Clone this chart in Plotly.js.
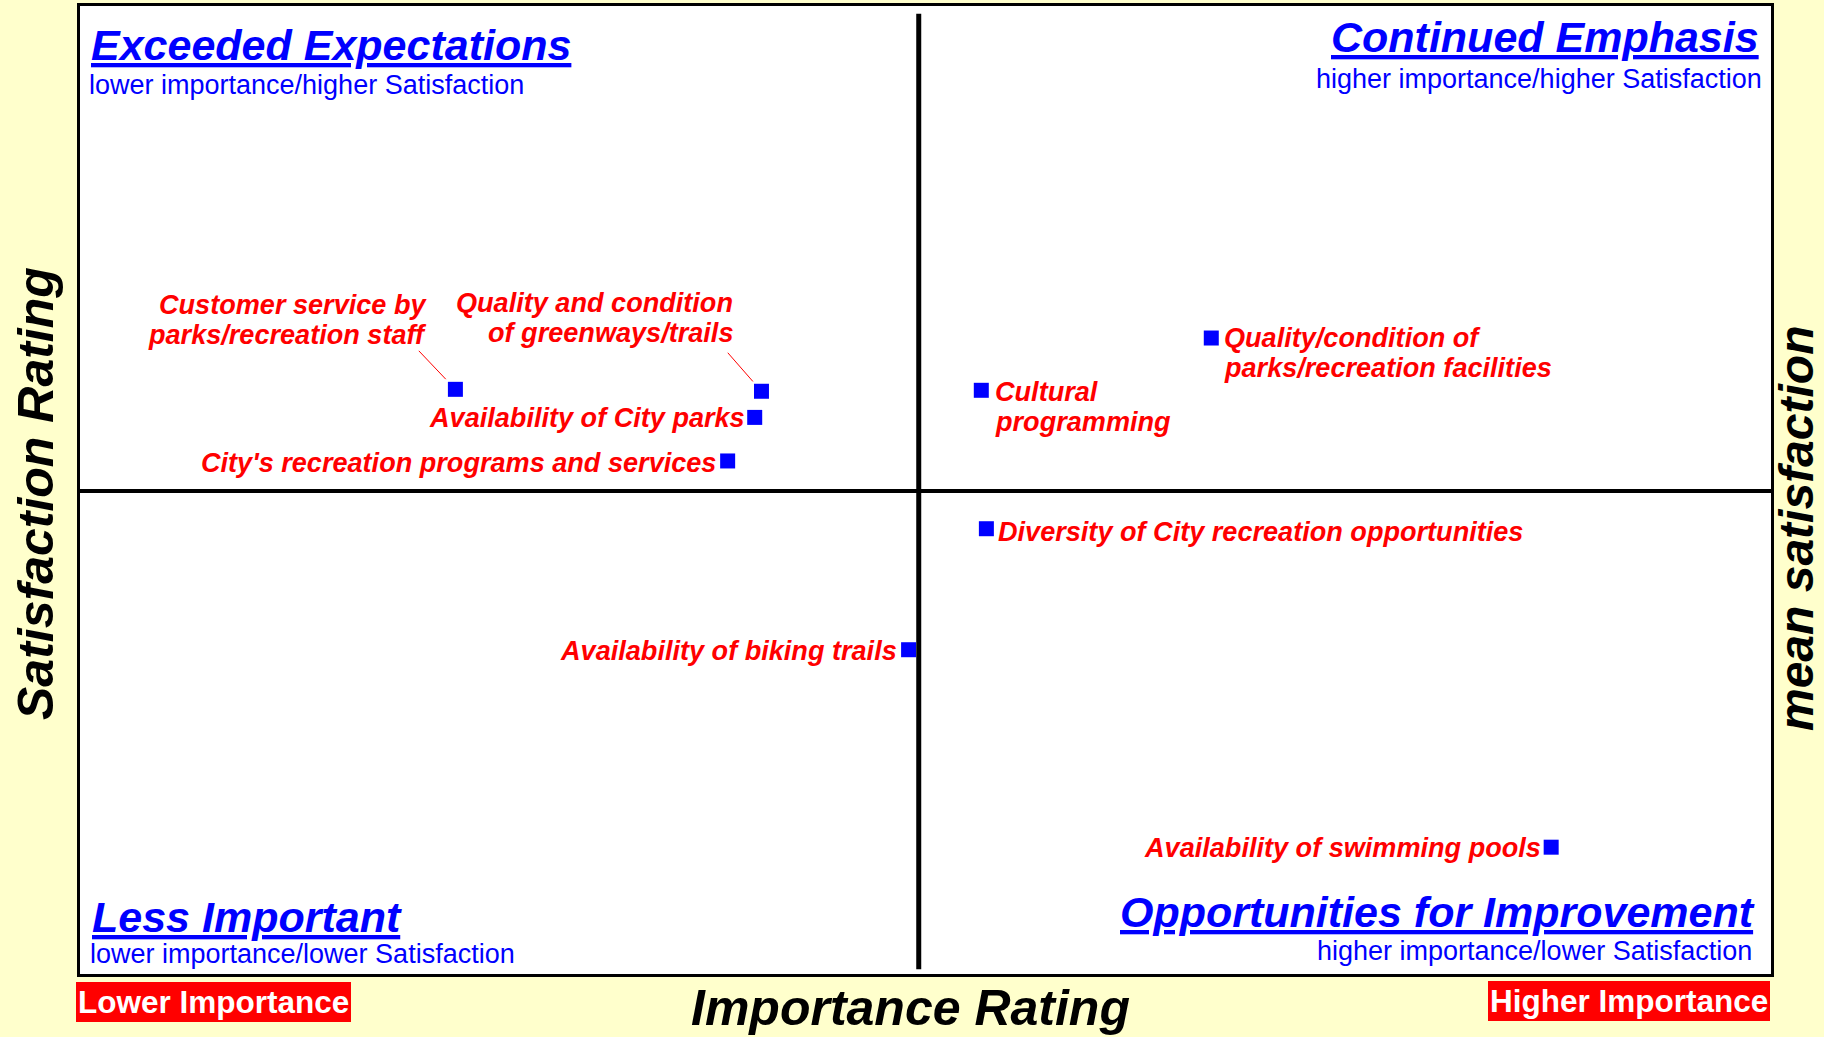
<!DOCTYPE html>
<html>
<head>
<meta charset="utf-8">
<title>Importance-Satisfaction Matrix</title>
<script src="https://cdn.plot.ly/plotly-3.0.1.min.js"></script>
<style>
  html, body { margin: 0; padding: 0; background: #ffffcc; }
  #chart { width: 1824px; height: 1037px; }
</style>
</head>
<body>
<div id="chart"></div>
<script>
// Parks & recreation services, placed by importance (x) and satisfaction (y).
// No tick labels in the source, so both ratings are on a 0-100 position scale.
const items = [
  'Customer service by<br>parks/recreation staff',
  'Quality and condition<br>of greenways/trails',
  'Availability of City parks',
  "City's recreation programs and services",
  'Cultural<br>programming',
  'Quality/condition of<br>parks/recreation facilities',
  'Diversity of City recreation opportunities',
  'Availability of biking trails',
  'Availability of swimming pools'
];
const importance   = [22.2, 40.3, 39.9, 38.3, 53.3, 66.9, 53.6, 49.0, 87.0];
const satisfaction = [60.4, 60.2, 57.5, 53.0, 60.3, 65.7, 46.0, 33.5, 13.1];
const meanImportance = 49.6;
const meanSatisfaction = 49.9;

const quadrantTitles = ['Exceeded Expectations', 'Continued Emphasis', 'Less Important', 'Opportunities for Improvement'];
const quadrantNotes = [
  'lower importance/higher Satisfaction',
  'higher importance/higher Satisfaction',
  'lower importance/lower Satisfaction',
  'higher importance/lower Satisfaction'
];

// --- page geometry (pixels) ---
const W = 1824, H = 1037;
const M = { l: 80, r: 53, t: 6, b: 63 };
const pw = W - M.l - M.r, ph = H - M.t - M.b;
const px = x => (x - M.l) / pw;
const py = y => (H - M.b - y) / ph;

const FONT = 'Liberation Sans, Arial, Helvetica, sans-serif';
const RED = '#ff0000', BLUE = '#0000ff';

// label offsets from each marker: anchor side, dx, dy of first line (px, down = +)
const labelPos = [
  { side: 'right', dx: -28, dy: -85 },
  { side: 'right', dx: -28, dy: -89 },
  { side: 'right', dx: -10, dy: 0 },
  { side: 'right', dx: -12, dy: 2 },
  { side: 'left',  dx: 14,  dy: 1 },
  { side: 'left',  dx: 13,  dy: -1 },
  { side: 'left',  dx: 12,  dy: 3 },
  { side: 'right', dx: -12, dy: 1 },
  { side: 'right', dx: -10, dy: 0 }
];
const leaders = { 0: { ax: -38, ay: -40, standoff: 14 }, 1: { ax: -35, ay: -40, standoff: 13 } };
const LINE_STEP = 30;

const annotations = [];

// point labels, one annotation per line so the line spacing stays tight
items.forEach((name, i) => {
  const p = labelPos[i];
  name.split('<br>').forEach((line, k) => {
    annotations.push({
      x: importance[i], y: satisfaction[i], xref: 'x', yref: 'y',
      text: line, showarrow: false,
      xanchor: p.side, yanchor: 'middle', align: p.side,
      xshift: p.dx, yshift: -(p.dy + k * LINE_STEP),
      borderpad: 0, borderwidth: 0,
      font: { family: FONT, size: 27.1, color: RED, weight: 'bold', style: 'italic' }
    });
  });
  if (leaders[i]) {
    annotations.push({
      x: importance[i], y: satisfaction[i], xref: 'x', yref: 'y',
      text: '', showarrow: true, arrowhead: 0, arrowwidth: 1, arrowcolor: RED,
      ax: leaders[i].ax, ay: leaders[i].ay, standoff: leaders[i].standoff
    });
  }
});

// quadrant headings
const headPos = [
  { x: 91, y: 45, a: 'left' },  { x: 1759, y: 37, a: 'right' },
  { x: 92, y: 917, a: 'left' }, { x: 1755, y: 912, a: 'right' }
];
const notePos = [
  { x: 89, y: 85, a: 'left' },  { x: 1762, y: 79, a: 'right' },
  { x: 90, y: 954, a: 'left' }, { x: 1752, y: 951, a: 'right' }
];
quadrantTitles.forEach((t, i) => {
  annotations.push({
    xref: 'paper', yref: 'paper', x: px(headPos[i].x), y: py(headPos[i].y),
    xanchor: headPos[i].a, yanchor: 'middle', text: t, showarrow: false,
    borderpad: 0, borderwidth: 0,
    font: { family: FONT, size: 43, color: BLUE, weight: 'bold', style: 'italic', lineposition: 'under' }
  });
  annotations.push({
    xref: 'paper', yref: 'paper', x: px(notePos[i].x), y: py(notePos[i].y),
    xanchor: notePos[i].a, yanchor: 'middle', text: quadrantNotes[i], showarrow: false,
    borderpad: 0, borderwidth: 0,
    font: { family: FONT, size: 27, color: BLUE }
  });
});

// red end markers under the x axis
annotations.push(
  {
    xref: 'paper', yref: 'paper', x: px(76), y: py(1002), xanchor: 'left', yanchor: 'middle',
    text: 'Lower Importance', showarrow: false, bgcolor: RED, borderpad: 2, borderwidth: 0,
    font: { family: FONT, size: 31.5, color: '#ffffff', weight: 'bold' }
  },
  {
    xref: 'paper', yref: 'paper', x: px(1770), y: py(1001), xanchor: 'right', yanchor: 'middle',
    text: 'Higher Importance', showarrow: false, bgcolor: RED, borderpad: 2, borderwidth: 0,
    font: { family: FONT, size: 31.5, color: '#ffffff', weight: 'bold' }
  }
);

// axis titles
const axisFont = { family: FONT, size: 50, color: '#000000', weight: 'bold', style: 'italic' };
annotations.push(
  {
    xref: 'paper', yref: 'paper', x: px(910), y: py(1008), xanchor: 'center', yanchor: 'middle',
    text: 'Importance Rating', showarrow: false, font: axisFont
  },
  {
    xref: 'paper', yref: 'paper', x: px(36), y: py(494), xanchor: 'center', yanchor: 'middle',
    text: 'Satisfaction Rating', textangle: -90, showarrow: false, font: axisFont
  },
  {
    xref: 'paper', yref: 'paper', x: px(1796), y: py(529), xanchor: 'center', yanchor: 'middle',
    text: 'mean satisfaction', textangle: -90, showarrow: false, font: Object.assign({}, axisFont, { size: 48 })
  }
);

const trace = {
  x: importance,
  y: satisfaction,
  text: items,
  type: 'scatter',
  mode: 'markers',
  marker: { symbol: 'square', size: 15, color: BLUE },
  hovertemplate: '%{text}<extra></extra>'
};

const axisBase = {
  showline: true, mirror: true, linewidth: 3, linecolor: '#000000',
  showgrid: false, zeroline: false, showticklabels: false, ticks: '', fixedrange: true
};

const layout = {
  width: W, height: H,
  margin: M,
  paper_bgcolor: '#ffffcc',
  plot_bgcolor: '#ffffff',
  showlegend: false,
  xaxis: Object.assign({ range: [0, 100] }, axisBase),
  yaxis: Object.assign({ range: [0, 100] }, axisBase),
  shapes: [
    {
      type: 'line', xref: 'x', yref: 'paper', x0: meanImportance, x1: meanImportance,
      y0: 0.005, y1: 0.992, line: { color: '#000000', width: 5 }
    },
    {
      type: 'line', xref: 'paper', yref: 'y', x0: 0, x1: 1,
      y0: meanSatisfaction, y1: meanSatisfaction, line: { color: '#000000', width: 4 }
    }
  ],
  annotations: annotations
};

Plotly.newPlot('chart', [trace], layout, { displayModeBar: false, staticPlot: true });
</script>
</body>
</html>
